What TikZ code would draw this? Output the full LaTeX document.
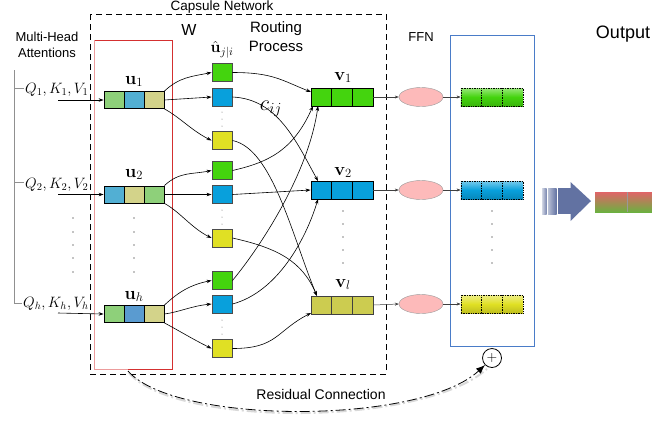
\RequirePackage{fix-cm}
\documentclass[tikz,border=0pt]{standalone}
\usepackage[no-math]{fontspec}
\setmainfont{Liberation Sans}
\usetikzlibrary{arrows.meta,shapes.geometric,calc}
\definecolor{ugreen}{HTML}{8ED07A}
\definecolor{ublue}{HTML}{52AFD3}
\definecolor{ublueb}{HTML}{5A9BD0}
\definecolor{ukhaki}{HTML}{D3D38A}
\definecolor{hgreen}{HTML}{44D40E}
\definecolor{hblue}{HTML}{08A0DC}
\definecolor{hyellow}{HTML}{E0E024}
\definecolor{vyellow}{HTML}{CCCC50}
\definecolor{pinkf}{HTML}{FDBABA}
\definecolor{boxblue}{HTML}{4A7CC8}
\definecolor{boxred}{HTML}{D43030}
\definecolor{boxpink}{HTML}{EC9C9C}
\definecolor{slate}{HTML}{6272A2}
\definecolor{bracketgray}{HTML}{909090}
\definecolor{outred}{HTML}{E06468}
\definecolor{outgreen}{HTML}{6CB040}
\begin{document}
\begin{tikzpicture}[x=1pt,y=-1pt,
  ucell/.style={rectangle,draw=black,line width=0.8pt,minimum width=20pt,minimum height=17pt,inner sep=0pt},
  vcell/.style={rectangle,draw=black,line width=0.8pt,minimum width=20.7pt,minimum height=18pt,inner sep=0pt},
  hatbox/.style={rectangle,draw=black!70,line width=0.9pt,minimum width=20pt,minimum height=18pt,inner sep=0pt},
  ocell/.style={rectangle,draw=black,densely dotted,line width=0.7pt,minimum width=20.7pt,minimum height=18pt,inner sep=0pt},
  ffn/.style={ellipse,draw=black!40,fill=pinkf,minimum width=44pt,minimum height=19pt,inner sep=0pt},
  arr/.style={-{Stealth[length=5pt,width=3.5pt]},line width=0.6pt},
  garr/.style={-{Stealth[length=4pt,width=3pt]},line width=0.5pt,black!75},
  lbl/.style={inner sep=0pt,anchor=base},
  dotc/.style={circle,fill=black,inner sep=0pt,minimum size=1.3pt},
]
\useasboundingbox (0,0) rectangle (652,424);

% boxes
\draw[black,line width=0.8pt,dash pattern=on 6pt off 4pt] (90,14) rectangle (386,374);
\draw[boxred,line width=0.8pt] (94,40) rectangle (172,369);
\draw[boxpink,line width=0.8pt] (94,40) -- (94,369) -- (128,369);
\draw[boxblue,line width=0.8pt] (450,35) rectangle (534,346);

% titles
\node[lbl,font=\fontsize{13.5}{16}\selectfont] (tcaps) at (222,10.5) {Capsule Network};
\node[lbl,font=\fontsize{16}{18}\selectfont] (tw) at (189,35) {W};
\node[lbl,font=\fontsize{15}{17}\selectfont] (trout) at (276,32) {Routing};
\node[lbl,font=\fontsize{15}{17}\selectfont] (tproc) at (276,51) {Process};
\node[lbl,font=\fontsize{13}{15}\selectfont] (tmh) at (47,41) {Multi-Head};
\node[lbl,font=\fontsize{13}{15}\selectfont] (tatt) at (47,57) {Attentions};
\node[lbl,font=\fontsize{13}{15}\selectfont] (tffn) at (421,41) {FFN};
\node[lbl,font=\fontsize{18}{20}\selectfont] (tout) at (623,38) {Output};
\node[lbl,font=\fontsize{14}{16}\selectfont] (tres) at (321,399) {Residual Connection};
\node[inner sep=0pt,font=\fontsize{16}{18}\selectfont] (that) at (222,50) {$\hat{\mathbf{u}}_{j|i}$};
\node[lbl,font=\fontsize{22}{24}\selectfont] (tc) at (271,110) {$c_{ij}$};

% bracket
\draw[bracketgray,line width=1pt] (14,70) -- (14,303) -- (22,303);
\draw[bracketgray,line width=1pt] (14,88) -- (24,88);
\draw[bracketgray,line width=1pt] (14,182) -- (24,182);
\node[inner sep=0pt,anchor=base west,font=\fontsize{15}{17}\selectfont] (q1) at (25,93) {$Q_1,K_1,V_1$};
\node[inner sep=0pt,anchor=base west,font=\fontsize{15}{17}\selectfont] (q2) at (25,188) {$Q_2,K_2,V_2$};
\node[inner sep=0pt,anchor=base west,font=\fontsize{15}{17}\selectfont] (qh) at (23,307) {$Q_h,K_h,V_h$};

% u vectors
\node[ucell,fill=ugreen] (u1a) at (114,100) {};
\node[ucell,fill=ublue] (u1b) at (134,100) {};
\node[ucell,fill=ukhaki] (u1c) at (154,100) {};
\node[ucell,fill=ublue] (u2a) at (114,194.5) {};
\node[ucell,fill=ukhaki] (u2b) at (134,194.5) {};
\node[ucell,fill=ugreen] (u2c) at (154,194.5) {};
\node[ucell,fill=ugreen] (uha) at (114,314) {};
\node[ucell,fill=ublueb] (uhb) at (134,314) {};
\node[ucell,fill=ukhaki] (uhc) at (154,314) {};
\node[lbl,font=\fontsize{18}{20}\selectfont] (lu1) at (134,84) {$\mathbf{u}_1$};
\node[lbl,font=\fontsize{18}{20}\selectfont] (lu2) at (134,177) {$\mathbf{u}_2$};
\node[lbl,font=\fontsize{18}{20}\selectfont] (luh) at (134,299) {$\mathbf{u}_h$};

% inputs
\coordinate (s1) at (58,100);
\coordinate (s2) at (58,194.5);
\coordinate (sh) at (58,313);
\draw[arr] (s1) -- (u1a.west);
\draw[arr] (s2) -- (u2a.west);
\draw[arr] (sh) -- (uha.west);

% dots columns
\foreach \yy in {218,232,245,258,272} {
  \node[dotc] (dl\yy) at (73,\yy) {};
  \node[dotc] (du\yy) at (134,\yy) {};
}
\foreach \yy in {211,224,237,250,263} {
  \node[dotc] (dv\yy) at (343,\yy) {};
  \node[dotc] (do\yy) at (492,\yy) {};
}
\foreach \yy in {112,119,126,210,217,224,320,327,334} {
  \node[circle,fill=black!60,inner sep=0pt,minimum size=1pt] (dh\yy) at (222,\yy) {};
}

% u-hat boxes
\node[hatbox,fill=hgreen] (g1) at (222,72.5) {};
\node[hatbox,fill=hblue] (b1) at (222,97) {};
\node[hatbox,fill=hyellow] (y1) at (222,140.5) {};
\node[hatbox,fill=hgreen] (g2) at (222,170.5) {};
\node[hatbox,fill=hblue] (b2) at (222,194.5) {};
\node[hatbox,fill=hyellow] (y2) at (222,238) {};
\node[hatbox,fill=hgreen] (g3) at (222,280.5) {};
\node[hatbox,fill=hblue] (b3) at (222,304) {};
\node[hatbox,fill=hyellow] (y3) at (222,348.5) {};

% u -> u-hat
\draw[arr] (u1c.north east) .. controls +(15,-14) and +(-20,4) .. (g1.west);
\draw[arr] (u1c.east) -- (b1.west);
\draw[arr] (u1c.south east) .. controls +(15,8) and +(-20,-10) .. (y1.west);
\draw[arr] (u2c.north east) .. controls +(15,-14) and +(-20,4) .. (g2.west);
\draw[arr] (u2c.east) -- (b2.west);
\draw[arr] (u2c.south east) .. controls +(15,8) and +(-20,-10) .. (y2.west);
\draw[arr] (uhc.north east) .. controls +(15,-14) and +(-20,4) .. (g3.west);
\draw[arr] (uhc.east) .. controls +(15,-2) and +(-20,2) .. (b3.west);
\draw[arr] (uhc.south east) .. controls +(15,8) and +(-20,-10) .. (y3.west);

% v vectors
\node[vcell,fill=hgreen] (v1a) at (321.3,97) {};
\node[vcell,fill=hgreen] (v1b) at (342,97) {};
\node[vcell,fill=hgreen] (v1c) at (362.7,97) {};
\node[vcell,fill=hblue] (v2a) at (321.3,190) {};
\node[vcell,fill=hblue] (v2b) at (342,190) {};
\node[vcell,fill=hblue] (v2c) at (362.7,190) {};
\node[vcell,fill=vyellow,draw=black!75] (vla) at (321.3,305) {};
\node[vcell,fill=vyellow,draw=black!75] (vlb) at (342,305) {};
\node[vcell,fill=vyellow,draw=black!75] (vlc) at (362.7,305) {};
\node[lbl,font=\fontsize{18}{20}\selectfont] (lv1) at (343,80) {$\mathbf{v}_1$};
\node[lbl,font=\fontsize{18}{20}\selectfont] (lv2) at (343,175) {$\mathbf{v}_2$};
\node[lbl,font=\fontsize{18}{20}\selectfont] (lvl) at (343,287) {$\mathbf{v}_l$};

\coordinate (v1in) at (311,92);
\coordinate (v1bot1) at (313,106);
\coordinate (v1bot2) at (318,106);
\coordinate (v2top) at (318,181);
\coordinate (v2bot) at (318,199);
\coordinate (vltop) at (317,296);
\coordinate (vlin) at (311,313);

% routing
\draw[arr] (g1.east) .. controls +(40,0) and +(-30,-12) .. (v1in);
\draw[arr] (b1.east) .. controls +(45,2) and +(-22,-40) .. (v2top);
\draw[arr] (y1.east) .. controls +(40,8) and +(-25,-60) .. (vltop);
\draw[arr] (g2.east) .. controls +(35,-8) and +(-20,45) .. (v1bot1);
\draw[arr] (b2.east) -- (v2a.west);
\draw[arr] (y2.east) .. controls +(45,10) and +(-15,-35) .. (vltop);
\draw[arr] (g3.east) .. controls +(25,-30) and +(-10,70) .. (v1bot2);
\draw[arr] (b3.east) .. controls +(45,-12) and +(-12,40) .. (v2bot);
\draw[arr] (y3.east) .. controls +(45,0) and +(-35,18) .. (vlin);

% FFN ellipses
\node[ffn] (e1) at (421,97) {};
\node[ffn] (e2) at (421,190) {};
\node[ffn] (el) at (421,304) {};
\draw[garr] (v1c.east) -- (e1.west);
\draw[garr] (v2c.east) -- (e2.west);
\draw[garr] (vlc.east) -- (el.west);

% output vectors
\foreach \nm/\yy/\cc in {o1/97/hgreen,o2/190/hblue,ol/304/hyellow} {
  \node[ocell,top color=\cc!55!white,bottom color=\cc!85!black,middle color=\cc] (\nm a) at (471.3,\yy) {};
  \node[ocell,top color=\cc!55!white,bottom color=\cc!85!black,middle color=\cc] (\nm b) at (492,\yy) {};
  \node[ocell,top color=\cc!55!white,bottom color=\cc!85!black,middle color=\cc] (\nm c) at (512.7,\yy) {};
}
\draw[garr] (e1.east) -- (o1a.west);
\draw[garr] (e2.east) -- (o2a.west);
\draw[garr] (el.east) -- (ola.west);

% residual
\node[circle,draw=black,line width=0.8pt,fill=white,minimum size=19pt,inner sep=0pt,font=\fontsize{14}{14}\selectfont] (plus) at (492,358) {$+$};
\coordinate (rstart) at (128,371);
\draw[black!15,line width=2pt,dash pattern=on 10pt off 3pt on 2pt off 3pt] ($(rstart)+(1,2)$) .. controls (176,427) and (421,427) .. ($(plus.south west)+(2,4)$);
\draw[-{Latex[length=9pt,width=7pt]},line width=0.8pt,dash pattern=on 10pt off 3pt on 2pt off 3pt] (rstart) .. controls (175,425) and (420,425) .. (plus.south west);

% big arrow
\shade[left color=slate!30,right color=slate!85] (542,188) rectangle (546.5,214);
\shade[left color=slate!45,right color=slate] (548,188) rectangle (556.5,214);
\fill[slate] (558,188) rectangle (571,214);
\fill[slate] (570.5,182) -- (591,201) -- (570.5,221) -- cycle;

% output bar
\shade[top color=outred,bottom color=outgreen] (595,192) rectangle (660,212);
\draw[black!40,line width=0.6pt] (627,192) -- (627,212);
\end{tikzpicture}
\end{document}
